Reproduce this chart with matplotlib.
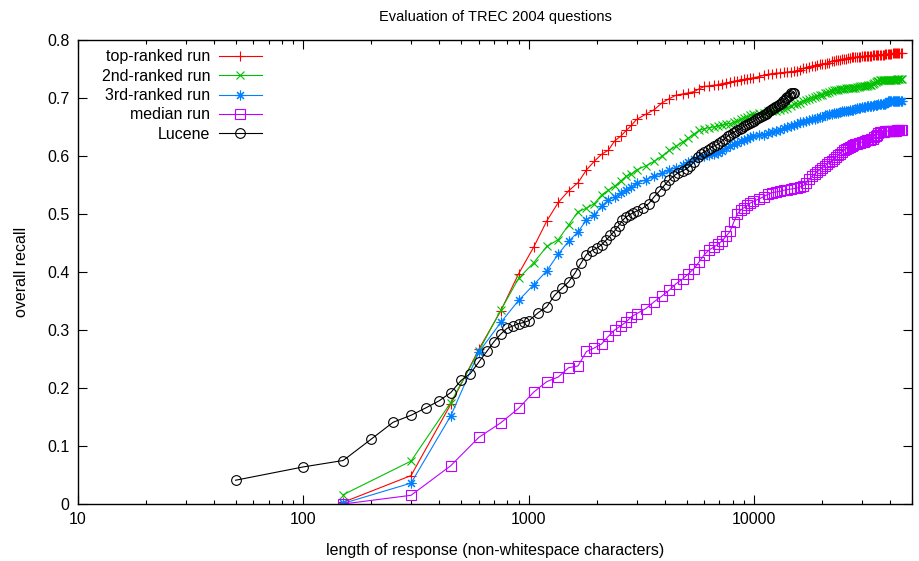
import numpy as np
import matplotlib
matplotlib.use('Agg')
import matplotlib.pyplot as plt
from matplotlib.ticker import FixedLocator, FuncFormatter, LogLocator, NullFormatter

plt.rcParams['font.family'] = ['Liberation Sans', 'DejaVu Sans']

# response lengths (characters) at which the runs were evaluated
run_len = np.concatenate([np.arange(150, 3001, 150),
                          np.arange(3300, 9901, 300),
                          np.arange(10500, 45001, 500)])
lucene_len = np.concatenate([np.arange(50, 1001, 50),
                             np.arange(1100, 3001, 100),
                             np.arange(3200, 15001, 200)])

top_run = [0.003, 0.049, 0.172, 0.267, 0.333, 0.397, 0.443, 0.488, 0.520, 0.540,
           0.554, 0.576, 0.591, 0.603, 0.610, 0.626, 0.634, 0.644, 0.653, 0.663,
           0.672, 0.680, 0.692, 0.699, 0.705, 0.707, 0.709, 0.711, 0.716, 0.720,
           0.721, 0.722, 0.723, 0.725, 0.726, 0.727, 0.729, 0.730, 0.731, 0.732,
           0.733, 0.734, 0.735,
           0.737, 0.739, 0.741, 0.742, 0.743, 0.743, 0.744, 0.745, 0.745, 0.746,
           0.747, 0.749, 0.751, 0.752, 0.754, 0.755, 0.756, 0.757, 0.758, 0.759,
           0.759, 0.760, 0.761, 0.763, 0.764, 0.765, 0.765, 0.766, 0.767, 0.767,
           0.768, 0.769, 0.769, 0.770, 0.770, 0.770, 0.771, 0.771, 0.771, 0.772,
           0.772, 0.772, 0.773, 0.773, 0.773, 0.773, 0.774, 0.774, 0.774, 0.774,
           0.774, 0.775, 0.775, 0.775, 0.775, 0.776, 0.776, 0.776, 0.776, 0.776,
           0.776, 0.777, 0.777, 0.777, 0.777, 0.777, 0.777, 0.777, 0.777, 0.777]

second_run = [0.016, 0.074, 0.175, 0.264, 0.334, 0.389, 0.416, 0.444, 0.456, 0.481,
              0.504, 0.510, 0.518, 0.533, 0.541, 0.548, 0.557, 0.565, 0.569, 0.576,
              0.583, 0.591, 0.600, 0.610, 0.617, 0.624, 0.631, 0.638, 0.644, 0.647,
              0.649, 0.650, 0.652, 0.653, 0.655, 0.656, 0.658, 0.660, 0.663, 0.666,
              0.668, 0.670, 0.672,
              0.674, 0.675, 0.677, 0.678, 0.678, 0.679, 0.681, 0.683, 0.686, 0.689,
              0.690, 0.692, 0.694, 0.696, 0.698, 0.700, 0.702, 0.703, 0.705, 0.706,
              0.708, 0.709, 0.710, 0.712, 0.713, 0.714, 0.714, 0.715, 0.716, 0.716,
              0.717, 0.717, 0.717, 0.718, 0.718, 0.718, 0.719, 0.719, 0.720, 0.720,
              0.720, 0.721, 0.721, 0.722, 0.722, 0.723, 0.724, 0.726, 0.728, 0.729,
              0.730, 0.731, 0.731, 0.731, 0.731, 0.731, 0.731, 0.731, 0.731, 0.731,
              0.731, 0.731, 0.731, 0.731, 0.731, 0.732, 0.732, 0.732, 0.732, 0.732]

third_run = [0.001, 0.036, 0.152, 0.262, 0.313, 0.351, 0.378, 0.402, 0.431, 0.453,
             0.469, 0.490, 0.498, 0.514, 0.524, 0.530, 0.536, 0.541, 0.547, 0.553,
             0.559, 0.565, 0.570, 0.576, 0.580, 0.584, 0.589, 0.594, 0.598, 0.600,
             0.602, 0.604, 0.606, 0.609, 0.613, 0.617, 0.620, 0.623, 0.626, 0.628,
             0.630, 0.632, 0.634,
             0.636, 0.637, 0.639, 0.641, 0.643, 0.645, 0.648, 0.650, 0.652, 0.654,
             0.656, 0.658, 0.659, 0.660, 0.662, 0.663, 0.664, 0.666, 0.667, 0.668,
             0.670, 0.671, 0.672, 0.673, 0.674, 0.675, 0.675, 0.676, 0.677, 0.677,
             0.678, 0.678, 0.679, 0.680, 0.680, 0.681, 0.682, 0.682, 0.683, 0.684,
             0.684, 0.685, 0.686, 0.686, 0.686, 0.687, 0.687, 0.688, 0.688, 0.688,
             0.689, 0.689, 0.689, 0.690, 0.690, 0.690, 0.692, 0.694, 0.695, 0.695,
             0.695, 0.695, 0.695, 0.695, 0.695, 0.695, 0.695, 0.695, 0.695, 0.695]

median_run = [0.000, 0.015, 0.066, 0.115, 0.140, 0.165, 0.193, 0.211, 0.219, 0.235,
              0.238, 0.263, 0.269, 0.276, 0.289, 0.300, 0.307, 0.314, 0.323, 0.328,
              0.337, 0.349, 0.359, 0.369, 0.380, 0.388, 0.397, 0.406, 0.418, 0.430,
              0.438, 0.443, 0.448, 0.454, 0.462, 0.470, 0.486, 0.500, 0.507, 0.511,
              0.515, 0.519, 0.522,
              0.526, 0.530, 0.534, 0.537, 0.538, 0.539, 0.541, 0.542, 0.543, 0.544,
              0.545, 0.547, 0.549, 0.553, 0.560, 0.565, 0.569, 0.573, 0.576, 0.579,
              0.583, 0.586, 0.589, 0.592, 0.595, 0.598, 0.601, 0.604, 0.607, 0.610,
              0.612, 0.614, 0.616, 0.618, 0.619, 0.620, 0.621, 0.622, 0.623, 0.624,
              0.625, 0.626, 0.627, 0.627, 0.628, 0.629, 0.630, 0.632, 0.634, 0.637,
              0.639, 0.641, 0.642, 0.642, 0.642, 0.643, 0.643, 0.643, 0.643, 0.643,
              0.643, 0.643, 0.643, 0.643, 0.643, 0.644, 0.644, 0.644, 0.644, 0.644]

lucene = [0.041, 0.064, 0.075, 0.112, 0.141, 0.153, 0.166, 0.178, 0.192, 0.213,
          0.225, 0.245, 0.263, 0.280, 0.293, 0.303, 0.307, 0.311, 0.313, 0.316,
          0.330, 0.340, 0.360, 0.372, 0.383, 0.398, 0.415, 0.430, 0.437, 0.441,
          0.447, 0.455, 0.463, 0.471, 0.480, 0.489, 0.495, 0.499, 0.502, 0.505,
          0.510, 0.518, 0.530, 0.540, 0.550, 0.559, 0.566, 0.571, 0.574, 0.578,
          0.583, 0.590, 0.598, 0.604, 0.607, 0.610, 0.614, 0.617, 0.619, 0.622,
          0.626, 0.630, 0.634, 0.637, 0.640, 0.642, 0.644, 0.646, 0.649, 0.651,
          0.653, 0.655, 0.657, 0.659, 0.661, 0.663, 0.665, 0.667, 0.669, 0.671,
          0.673, 0.675, 0.677, 0.679, 0.681, 0.683, 0.684, 0.686, 0.688, 0.690,
          0.692, 0.694, 0.697, 0.700, 0.702, 0.704, 0.706, 0.708, 0.709, 0.709]

fig = plt.figure(figsize=(9.19, 5.61), dpi=100)
ax = fig.add_axes([78/919, 57/561, 834/919, 464/561])

lw = 0.8
mew = 0.8
ax.plot(run_len, top_run, color='#ff0000', lw=lw, marker='+', ms=7, mew=mew, label='top-ranked run')
ax.plot(run_len, second_run, color='#00c000', lw=lw, marker='x', ms=6, mew=mew, label='2nd-ranked run')
ax.plot(run_len, third_run, color='#0080ff', lw=lw, marker=(8, 2, 0), ms=7, mew=mew, label='3rd-ranked run')
ax.plot(run_len, median_run, color='#c000ff', lw=lw, marker='s', ms=6.5, mew=mew, mfc='none', label='median run')
ax.plot(lucene_len, lucene, color='black', lw=lw, marker='o', ms=7, mew=mew, mfc='none', label='Lucene')

ax.set_xscale('log')
ax.set_xlim(10, 50000)
ax.set_ylim(0, 0.8)
ax.xaxis.set_major_locator(FixedLocator([10, 100, 1000, 10000]))
ax.xaxis.set_major_formatter(FuncFormatter(lambda v, p: '%d' % v))
ax.xaxis.set_minor_locator(LogLocator(base=10, subs=np.arange(2, 10)))
ax.xaxis.set_minor_formatter(NullFormatter())
ax.yaxis.set_major_locator(FixedLocator(np.arange(0, 0.81, 0.1)))
ax.yaxis.set_major_formatter(FuncFormatter(lambda v, p: '0' if abs(v) < 1e-9 else '%.1f' % v))

ax.tick_params(which='both', direction='in', top=True, right=True, labelsize=11.5, width=0.8)
ax.tick_params(which='major', length=6.5, pad=6)
ax.tick_params(which='minor', length=3)
for s in ax.spines.values():
    s.set_linewidth(1.0)

ax.set_title('Evaluation of TREC 2004 questions', fontsize=10.5, pad=14)
ax.set_xlabel('length of response (non-whitespace characters)', fontsize=11.5, labelpad=11)
ax.set_ylabel('overall recall', fontsize=11.5, labelpad=13)

ax.legend(loc='upper right', bbox_to_anchor=((262 - 78) / 834, (504 - 49.5) / 464),
          frameon=False, markerfirst=False, fontsize=11.5, handlelength=2.7,
          handletextpad=0.55, labelspacing=0.27, borderpad=0, borderaxespad=0)

fig.savefig('out.png', dpi=100)
